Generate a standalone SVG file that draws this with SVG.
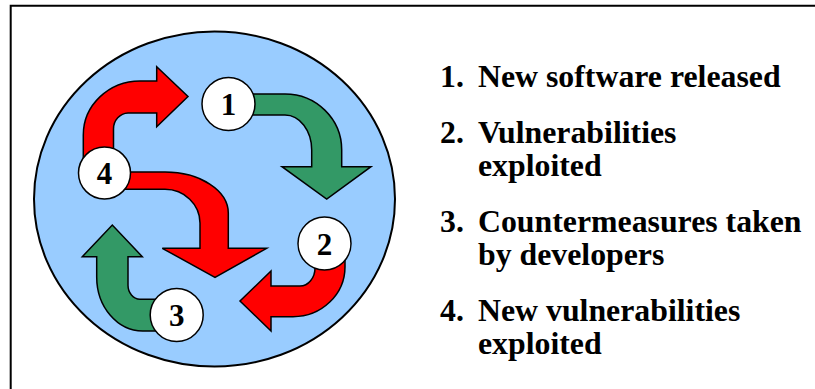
<svg xmlns="http://www.w3.org/2000/svg" width="815" height="389" viewBox="0 0 815 389">
<style>
.frame{stroke:#000;stroke-width:2;fill:none}
.bg{fill:#99CCFF;stroke:#000;stroke-width:2}
.red{fill:#FF0000;stroke:#000;stroke-width:1.5;stroke-linejoin:miter}
.green{fill:#339966;stroke:#000;stroke-width:1.5;stroke-linejoin:miter}
.node circle{fill:#fff;stroke:#000;stroke-width:1.5}
.num{font-family:"Liberation Serif","Times New Roman",serif;font-weight:bold;font-size:31px;text-anchor:middle;fill:#000}
.txt{font-family:"Liberation Serif","Times New Roman",serif;font-weight:bold;font-size:31.8px;fill:#000}
</style>
<rect width="815" height="389" fill="#fff"/>
<path class="frame" d="M10.7,389 L10.7,5.7 L815,5.7"/>
<ellipse class="bg" cx="214.5" cy="199" rx="180.5" ry="167.5"/>
<g id="connectors">
<path class="green" d="M240,94 L285,94 A56.7,56 0 0 1 341.7,150 L341.7,166.7 L371,166.7 L326.7,199 L282,166.7 L311.7,166.7 L311.7,150 A26.7,35 0 0 0 285,115 L240,115 Z"/>
<path class="red" d="M345,255 L345,266.7 A52,50 0 0 1 293,316.7 L271,316.7 L271,331 L240,301 L271,271 L271,286 L300,286 A15,18 0 0 0 315,268 L315,255 Z"/>
<path class="green" d="M165,331 L143,331 A46,54 0 0 1 96.7,277 L96.7,256.7 L82.3,256.7 L112.3,225 L142.3,256.7 L128,256.7 L128,285 A12,14 0 0 0 140,299.3 L165,299.3 Z"/>
<path class="red" d="M83.3,175 L83.3,135 A57,54 0 0 1 140,81 L156.7,81 L156.7,66.7 L188,96.5 L156.7,126.7 L156.7,113 L128,113 A15,16 0 0 0 113.5,129 L113.5,175 Z"/>
<path class="red" d="M120,172 L165,172 A63.3,41 0 0 1 228.3,213 L228.3,248.3 L266.7,248.3 L215,277.3 L162.3,248.3 L200,248.3 L200,223 A35,33.7 0 0 0 165,189.3 L120,189.3 Z"/>
</g>
<g id="node1" class="node"><circle cx="228.5" cy="104" r="26.5"/><text class="num" x="228.5" y="115">1</text></g>
<g id="node2" class="node"><circle cx="324.5" cy="243.5" r="26.5"/><text class="num" x="324.5" y="254.5">2</text></g>
<g id="node3" class="node"><circle cx="176.7" cy="315" r="26.5"/><text class="num" x="176.7" y="326">3</text></g>
<g id="node4" class="node"><circle cx="104.5" cy="173" r="26"/><text class="num" x="104.5" y="184">4</text></g>
<g id="legend1"><text class="txt" x="440" y="87">1.</text><text class="txt" x="478" y="87">New software released</text></g>
<g id="legend2"><text class="txt" x="440" y="143">2.</text><text class="txt" x="478" y="143">Vulnerabilities</text><text class="txt" x="478" y="176">exploited</text></g>
<g id="legend3"><text class="txt" x="440" y="232">3.</text><text class="txt" x="478" y="232">Countermeasures taken</text><text class="txt" x="478" y="265">by developers</text></g>
<g id="legend4"><text class="txt" x="440" y="321">4.</text><text class="txt" x="478" y="321">New vulnerabilities</text><text class="txt" x="478" y="354">exploited</text></g>
</svg>
